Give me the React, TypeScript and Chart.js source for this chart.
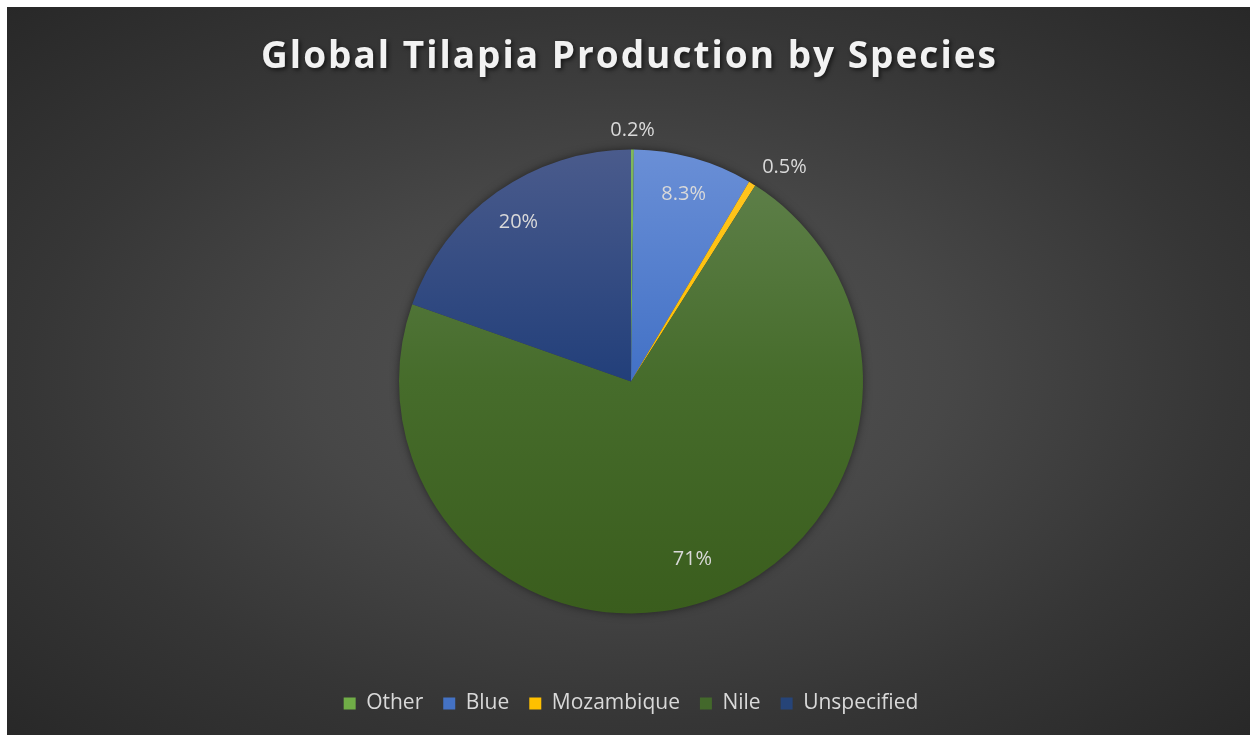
import React, { useEffect, useRef } from "react";
import Chart from "chart.js/auto";

const TITLE = "Global Tilapia Production by Species";
const categories = ["Other", "Blue", "Mozambique", "Nile", "Unspecified"];
const shares = [0.2, 8.3, 0.5, 71.4, 19.6];
const shareLabels = ["0.2%", "8.3%", "0.5%", "71%", "20%"];

const legendColors = ["#70AD47", "#4472C4", "#FFC000", "#43682B", "#264478"];
const gradientTop = ["#7fb95c", "#6a8fd6", "#ffc523", "#61824d", "#4a5b8c"];
const gradientMid = ["#6aa645", "#4271c6", "#ffc000", "#466c2b", "#223f7a"];
const gradientBottom = ["#5e9a3a", "#3b68bb", "#f2b600", "#3a5d1d", "#1b366f"];

const PIE_RADIUS = 232;
const W = 1243;
const H = 728;

const pieShadow = {
  id: "pieShadow",
  beforeDatasetsDraw(chart: any) {
    const arc = chart.getDatasetMeta(0).data[0];
    if (!arc) return;
    const ctx = chart.ctx;
    ctx.save();
    ctx.shadowColor = "rgba(0,0,0,0.6)";
    ctx.shadowBlur = 10;
    ctx.fillStyle = "#3a3a3a";
    ctx.beginPath();
    ctx.arc(arc.x, arc.y, PIE_RADIUS - 1, 0, Math.PI * 2);
    ctx.fill();
    ctx.restore();
  },
};

const sliceLabels = {
  id: "sliceLabels",
  afterDatasetsDraw(chart: any) {
    const ctx = chart.ctx;
    const meta = chart.getDatasetMeta(0);
    ctx.save();
    ctx.font = '20px "Open Sans"';
    ctx.fillStyle = "#d9d9d9";
    ctx.textBaseline = "middle";
    meta.data.forEach((arc: any, i: number) => {
      const p = arc.getProps(["x", "y", "startAngle", "endAngle", "outerRadius"], true);
      const mid = (p.startAngle + p.endAngle) / 2;
      let r: number;
      let align: CanvasTextAlign = "center";
      if (shares[i] < 2) {
        r = p.outerRadius + 19;
        if (Math.cos(mid) > 0.3) align = "left";
      } else {
        r = p.outerRadius * (shares[i] > 50 ? 0.81 : 0.84);
      }
      ctx.textAlign = align;
      ctx.fillText(shareLabels[i], p.x + Math.cos(mid) * r, p.y + Math.sin(mid) * r);
    });
    ctx.restore();
  },
};

const titlePlugin = {
  id: "customTitle",
  afterDraw(chart: any) {
    const ctx = chart.ctx;
    ctx.save();
    ctx.font = 'bold 37px "Open Sans"';
    (ctx as any).letterSpacing = "2px";
    ctx.fillStyle = "#f2f2f2";
    ctx.textAlign = "center";
    ctx.textBaseline = "middle";
    ctx.shadowColor = "rgba(0,0,0,0.6)";
    ctx.shadowBlur = 4;
    ctx.shadowOffsetX = 2;
    ctx.shadowOffsetY = 2;
    ctx.fillText(TITLE, chart.width / 2 + 1, 50);
    ctx.restore();
  },
};

function sliceFill(c: any) {
  const chart = c.chart;
  const i = c.dataIndex;
  const area = chart.chartArea;
  if (!area || i === undefined) return legendColors[i ?? 0];
  const cy = (area.top + area.bottom) / 2;
  const g = chart.ctx.createLinearGradient(0, cy - PIE_RADIUS, 0, cy + PIE_RADIUS);
  g.addColorStop(0, gradientTop[i]);
  g.addColorStop(0.5, gradientMid[i]);
  g.addColorStop(1, gradientBottom[i]);
  return g;
}

export default function App() {
  const ref = useRef<HTMLCanvasElement | null>(null);
  useEffect(() => {
    if (!ref.current) return;
    const chart = new Chart(ref.current, {
      type: "pie",
      data: {
        labels: categories,
        datasets: [
          {
            data: shares,
            backgroundColor: sliceFill as any,
            borderWidth: 0,
            radius: PIE_RADIUS,
          } as any,
        ],
      },
      options: {
        responsive: false,
        animation: false,
        layout: { padding: { top: 83, bottom: 11, left: 5, right: 0 } },
        plugins: {
          title: { display: false },
          tooltip: { enabled: false },
          legend: {
            position: "bottom",
            labels: {
              color: "#d9d9d9",
              font: { family: "Open Sans", size: 21 },
              boxWidth: 12,
              boxHeight: 12,
              padding: 20,
              generateLabels: () =>
                categories.map((text, i) => ({
                  text,
                  fillStyle: legendColors[i],
                  strokeStyle: legendColors[i],
                  lineWidth: 0,
                  hidden: false,
                  index: i,
                  fontColor: "#d9d9d9",
                })),
            },
          },
        },
      },
      plugins: [pieShadow, sliceLabels, titlePlugin],
    });
    return () => chart.destroy();
  }, []);

  return (
    <div
      style={{
        position: "fixed",
        left: 7,
        top: 7,
        width: 1280,
        height: 760,
        overflow: "hidden",
        background:
          "radial-gradient(ellipse 920px 540px at 621px 365px, #545454 0%, #474747 35%, #363636 65%, #262626 100%)",
      }}
    >
      <canvas ref={ref} width={W} height={H} style={{ display: "block" }} />
    </div>
  );
}
